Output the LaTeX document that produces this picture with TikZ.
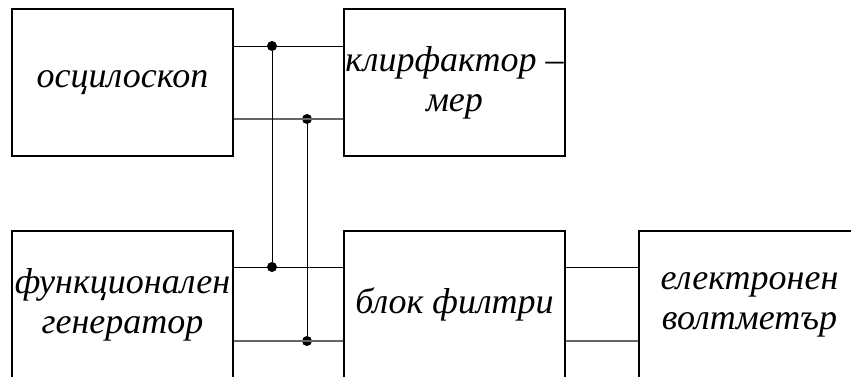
\documentclass[tikz,border=0pt]{standalone}
\usepackage{fontspec}
\setmainfont{Liberation Serif}
\usetikzlibrary{positioning}

\tikzset{
  blok/.style={draw, line width=1.2pt, minimum width=221pt, minimum height=147pt,
    inner sep=0pt, align=center, font=\itshape\fontsize{36}{40}\selectfont},
  spoj/.style={circle, fill, inner sep=0pt, minimum size=10pt},
  vod/.style={line width=1pt},
  vodsiv/.style={line width=1.1pt, black!60},
}

\begin{document}
\begin{tikzpicture}[x=1pt,y=-1pt]
    \useasboundingbox (0,0) rectangle (851,376);
    \clip (0,0) rectangle (851,376);

    % blocks
    \node[blok] (osc)  at (122.5,82.5)  {осцилоскоп};
    \node[blok] (klir) at (454.5,82.5)  {клирфактор –\\мер};
    \node[blok] (gen)  at (122.5,304.5) {функционален\\генератор};
    \node[blok] (filt) at (454.5,304.5) {блок филтри};
    \node[blok] (volt) at (749.5,304.5) {електронен\\волтметър};

    % junctions
    \node[spoj] (j1) at (272,46)  {};
    \node[spoj] (j2) at (307,119) {};
    \node[spoj] (j3) at (272,267) {};
    \node[spoj] (j4) at (307,341) {};

    \draw[vod]    (osc.east |- j1) -- (klir.west |- j1);
    \draw[vodsiv] (osc.east |- j2) -- (klir.west |- j2);
    \draw[vod]    (gen.east |- j3) -- (filt.west |- j3);
    \draw[vodsiv] (gen.east |- j4) -- (filt.west |- j4);

    \draw[vod] (j1) -- (j3);
    \draw[vod] (j2) -- (j4);

    \draw[vod]    (filt.east |- j3) -- (volt.west |- j3);
    \draw[vodsiv] (filt.east |- j4) -- (volt.west |- j4);
\end{tikzpicture}
\end{document}
